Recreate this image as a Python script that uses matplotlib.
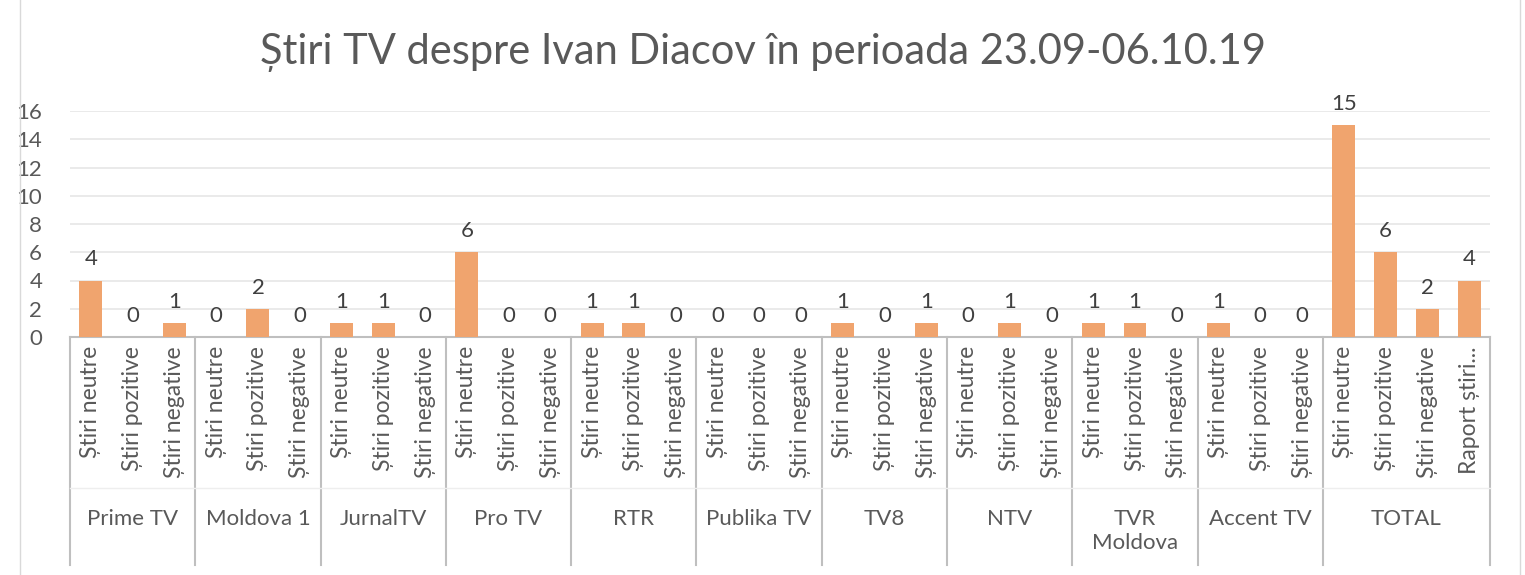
import numpy as np
import matplotlib.pyplot as plt
import matplotlib.transforms as mtransforms
from matplotlib.patches import Rectangle

# ----------------------------
# data
# ----------------------------
channels = ["Prime TV", "Moldova 1", "JurnalTV", "Pro TV", "RTR", "Publika TV",
            "TV8", "NTV", "TVR\nMoldova", "Accent TV", "TOTAL"]
sub_labels = ["Știri neutre", "Știri pozitive", "Știri negative"]
total_labels = ["Știri neutre", "Știri pozitive", "Știri negative", "Raport știri..."]
values = [
    [4, 0, 1],
    [0, 2, 0],
    [1, 1, 0],
    [6, 0, 0],
    [1, 1, 0],
    [0, 0, 0],
    [1, 0, 1],
    [0, 1, 0],
    [1, 1, 0],
    [1, 0, 0],
    [15, 6, 2, 4],
]
title = "Știri TV despre Ivan Diacov în perioada 23.09-06.10.19"

plt.rcParams['font.family'] = ['Lato', 'DejaVu Sans']

bar_color = "#F0A46E"
txt_color = "#595959"
line_color = "#BFBFBF"

# flatten
flat_vals, flat_labels, groups = [], [], []
pos = 0
for name, vals in zip(channels, values):
    labs = total_labels if len(vals) == 4 else sub_labels
    start = pos
    for v, l in zip(vals, labs):
        flat_vals.append(v)
        flat_labels.append(l)
        pos += 1
    groups.append((name, start, pos))
x = np.arange(len(flat_vals))

fig = plt.figure(figsize=(15.25, 5.75), dpi=100)
ax = fig.add_axes([70 / 1525, 1 - 337 / 575, 1420 / 1525, 226 / 575])

ax.bar(x, flat_vals, width=0.55, color=bar_color, zorder=3)
for xi, v in zip(x, flat_vals):
    ax.annotate(str(v), (xi, v), xytext=(0, 8), textcoords="offset points",
                ha="center", va="bottom", fontsize=16, color="#404040")

ax.set_xlim(-0.5, len(flat_vals) - 0.5)
ax.set_ylim(0, 16)
ax.set_yticks(range(0, 17, 2))
ax.yaxis.grid(True, color="#E6E6E6", linewidth=1.2, zorder=0)
ax.tick_params(axis="y", length=0, pad=20, labelsize=16, labelcolor=txt_color)
ax.set_xticks([])
for s in ["top", "right", "left"]:
    ax.spines[s].set_visible(False)
ax.spines["bottom"].set_color(line_color)
ax.spines["bottom"].set_linewidth(1.5)

# multi-level category axis
trans = mtransforms.blended_transform_factory(ax.transData, ax.transAxes)
px = 1 / 226  # one pixel in axes height
for xi, lab in zip(x, flat_labels):
    ax.text(xi, -9 * px, lab, transform=trans, rotation=90, ha="center", va="top",
            fontsize=16.5, color=txt_color, clip_on=False)
for name, a, b in groups:
    ax.plot([a - 0.5, a - 0.5], [0, -228 * px], transform=trans, color=line_color,
            lw=1.5, clip_on=False)
    ax.text((a + b - 1) / 2, -172 * px, name, transform=trans, ha="center", va="top",
            fontsize=16, color=txt_color, linespacing=1.25, clip_on=False)
ax.plot([len(flat_vals) - 0.5] * 2, [0, -228 * px], transform=trans, color=line_color,
        lw=1.5, clip_on=False)
ax.plot([-0.5, len(flat_vals) - 0.5], [-151 * px] * 2, transform=trans,
        color="#EEEEEE", lw=1, clip_on=False)

fig.text(0.5, 1 - 52 / 575, title, ha="center", va="center", fontsize=30,
         color=txt_color)

# chart border
fig.patches.append(Rectangle((20 / 1525, -0.01), 1500 / 1525, 1.05, transform=fig.transFigure,
                             fill=False, edgecolor="#D9D9D9", lw=1))

fig.savefig("out.png", dpi=100)
